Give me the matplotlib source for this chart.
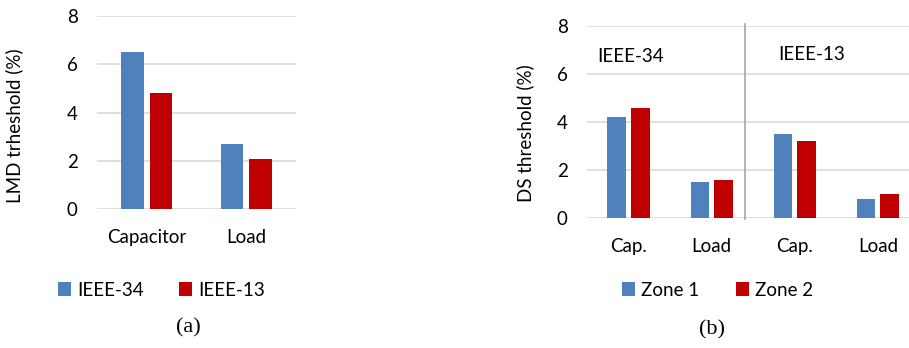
import numpy as np
import matplotlib
matplotlib.use('Agg')
import matplotlib.pyplot as plt

plt.rcParams['font.family'] = ['Lato', 'DejaVu Sans']

# (a) LMD thresholds
lmd_cats = ['Capacitor', 'Load']
lmd_ieee34 = [6.5, 2.7]
lmd_ieee13 = [4.8, 2.1]

# (b) DS thresholds, IEEE-34 first then IEEE-13
ds_cats = ['Cap.', 'Load', 'Cap.', 'Load']
ds_zone1 = [4.2, 1.5, 3.5, 0.8]
ds_zone2 = [4.6, 1.6, 3.2, 1.0]

yticks = [0, 2, 4, 6, 8]
blue, red = '#4F81BD', '#C00000'
grid_c = '#D9D9D9'
fs = 13.5

fig = plt.figure(figsize=(9.09, 3.48), dpi=100)


def style_axes(ax, ncat):
    ax.set_xlim(-0.5, ncat - 0.5)
    ax.set_ylim(0, 8)
    ax.set_yticks(yticks)
    ax.yaxis.grid(True, color=grid_c, lw=1.2)
    ax.set_axisbelow(True)
    for s in ax.spines.values():
        s.set_visible(False)
    ax.tick_params(length=0, labelsize=fs, pad=14)


# left panel
ax1 = fig.add_axes([97 / 909, 1 - 209.3 / 348, 199 / 909, 193.3 / 348])
x1 = np.arange(len(lmd_cats))
b1 = ax1.bar(x1 - 0.143, lmd_ieee34, 0.23, color=blue, label='IEEE-34')
b2 = ax1.bar(x1 + 0.143, lmd_ieee13, 0.23, color=red, label='IEEE-13')
style_axes(ax1, len(lmd_cats))
ax1.set_xticks(x1)
ax1.set_xticklabels(lmd_cats)
fig.text(14 / 909, 1 - 126 / 348, 'LMD trheshold (%)', rotation=90,
         ha='center', va='center', fontsize=fs)
fig.legend(handles=[b1, b2], loc='center', ncol=2, frameon=False,
           bbox_to_anchor=(161.5 / 909, 1 - 290 / 348), fontsize=fs,
           handlelength=0.7, handleheight=0.7, handletextpad=0.3,
           columnspacing=1.9)
fig.text(188 / 909, 1 - 328 / 348, '(a)', ha='center', va='center',
         fontsize=16, family='Liberation Serif')

# right panel
ax2 = fig.add_axes([587 / 909, 1 - 218.3 / 348, 332.5 / 909, 192.6 / 348])
x2 = np.arange(len(ds_cats))
c1 = ax2.bar(x2 - 0.142, ds_zone1, 0.223, color=blue, label='Zone 1')
c2 = ax2.bar(x2 + 0.142, ds_zone2, 0.223, color=red, label='Zone 2')
style_axes(ax2, len(ds_cats))
ax2.set_xticks(x2)
ax2.set_xticklabels(ds_cats)
ax2.axvline(1.395, ymin=-0.005, ymax=1.01, color='#A6A6A6', lw=1.2,
            clip_on=False)
ax2.text(-0.371, 6.71, 'IEEE-34', ha='left', va='center', fontsize=fs)
ax2.text(1.798, 6.82, 'IEEE-13', ha='left', va='center', fontsize=fs)
fig.text(525 / 909, 1 - 133.5 / 348, 'DS threshold (%)', rotation=90,
         ha='center', va='center', fontsize=fs)
fig.legend(handles=[c1, c2], loc='center', ncol=2, frameon=False,
           bbox_to_anchor=(717.5 / 909, 1 - 290 / 348), fontsize=fs,
           handlelength=0.7, handleheight=0.7, handletextpad=0.3,
           columnspacing=2.0)
fig.text(711.7 / 909, 1 - 330 / 348, '(b)', ha='center', va='center',
         fontsize=16, family='Liberation Serif')

fig.savefig('out.png', dpi=100)
